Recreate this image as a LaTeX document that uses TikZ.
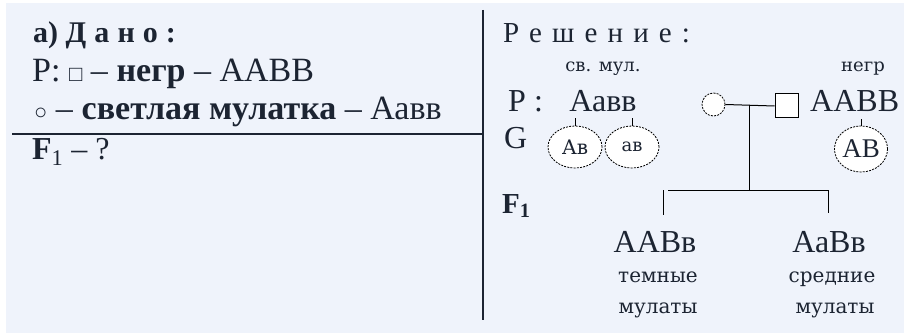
\documentclass[tikz,border=0pt]{standalone}
\usepackage{fontspec}
\usetikzlibrary{shapes.geometric}
\setmainfont{Liberation Serif}
\newfontfamily\smallserif{DejaVu Serif}
\definecolor{bgc}{RGB}{239,243,251}
\definecolor{ink}{RGB}{28,36,50}
\begin{document}
\begin{tikzpicture}[x=1pt,y=-1pt,
  txt/.style={inner sep=0pt, text=ink},
  big/.style={txt, font=\fontsize{32}{32}\selectfont},
  mid/.style={txt, font=\fontsize{34}{34}\selectfont},
  lbl/.style={txt, font=\smallserif\fontsize{18}{18}\selectfont},
  sub/.style={txt, font=\smallserif\fontsize{20}{20}\selectfont},
  gam/.style={ellipse, draw=black, fill=white, dash pattern=on 2pt off 1.2pt, line width=0.8pt, inner sep=0pt, text=ink},
  ln/.style={draw=black, line width=1pt},
  rule/.style={draw=ink, line width=1.2pt}]
\useasboundingbox (0,0) rectangle (904,334);
\fill[white] (0,0) rectangle (904,334);
\fill[bgc] (6,3) rectangle (904,333);
% left column
\node[txt, anchor=base west, font=\fontsize{30}{30}\selectfont\bfseries] (dano) at (33,43) {а) {\addfontfeatures{LetterSpace=27}Дано:}};
\node[mid, anchor=base west] (l2) at (32,82) {P: {\fontsize{22}{22}\selectfont □} – \textbf{негр} – ААВВ};
\node[mid, anchor=base west] (l3) at (34,120) {{\fontsize{22}{22}\selectfont ○} – \textbf{светлая мулатка} – Аавв};
\coordinate (hl) at (12,134);
\coordinate (vt) at (483,10);
\coordinate (vb) at (483,320);
\draw[rule] (hl) -- (vt |- hl);
\draw[rule] (vt) -- (vb);
\node[txt, anchor=base west, font=\fontsize{32}{32}\selectfont] (q) at (32,159) {\textbf{F}\textsubscript{1} – ?};
% right column
\node[txt, anchor=base west, font=\fontsize{29}{29}\selectfont\addfontfeatures{LetterSpace=35}] (resh) at (503,43) {Решение:};
\node[lbl, anchor=base] (svm) at (603,72) {св. мул.};
\node[lbl, anchor=base] (negr) at (863,72) {негр};
\node[big, anchor=base west] (P) at (508,112) {P :};
\node[big, anchor=base] (mat) at (603,112) {Аавв};
\node[big, anchor=base west] (G) at (504,148) {G};
\node[gam, minimum width=54pt, minimum height=42pt, font=\smallserif\fontsize{20}{20}\selectfont] (g1) at (575,147) {Ав};
\node[gam, minimum width=54pt, minimum height=42pt, font=\smallserif\fontsize{18}{18}\selectfont] (g2) at (632,147) {ав};
\node[gam, minimum width=52pt, minimum height=46pt, font=\fontsize{27}{27}\selectfont] (g3) at (861,149) {АВ};
\draw[ln] (g1.north) -- ++(0,-8);
\draw[ln] (g2.north) -- ++(0,-8);
\draw[ln] (g3.north) -- ++(0,-7);
% pedigree
\node[circle, draw=black, fill=white, dash pattern=on 2pt off 1.2pt, line width=0.8pt, minimum size=23pt, inner sep=0pt] (fem) at (713.5,104.5) {};
\node[draw=black, fill=white, line width=1pt, minimum width=23pt, minimum height=24pt, inner sep=0pt] (male) at (786.5,106) {};
\node[big, anchor=base west] (dad) at (810,112) {ААВВ};
\draw[ln] (fem.east) -- (male.west);
\coordinate (mid) at (749,105);
\coordinate (bar) at (749,190);
\draw[ln] (mid) -- (bar);
\coordinate (bl) at (668,190);
\coordinate (br) at (828,190);
\draw[ln] (bl) -- (br);
\coordinate (t1) at (663,190);
\coordinate (t1e) at (663,215);
\coordinate (t2e) at (828,213);
\draw[ln] (t1) -- (t1e);
\draw[ln] (br) -- (t2e);
\node[big, anchor=base west, font=\fontsize{29}{29}\selectfont\bfseries] (F1) at (502,213) {F\textsubscript{1}};
\node[big, anchor=base] (o1) at (655,252) {ААВв};
\node[big, anchor=base] (o2) at (829,252) {АаВв};
\node[sub, anchor=base] (o1a) at (658,282) {темные};
\node[sub, anchor=base] (o1b) at (658,313) {мулаты};
\node[sub, anchor=base] (o2a) at (832,282) {средние};
\node[sub, anchor=base] (o2b) at (835,313) {мулаты};
\end{tikzpicture}
\end{document}
